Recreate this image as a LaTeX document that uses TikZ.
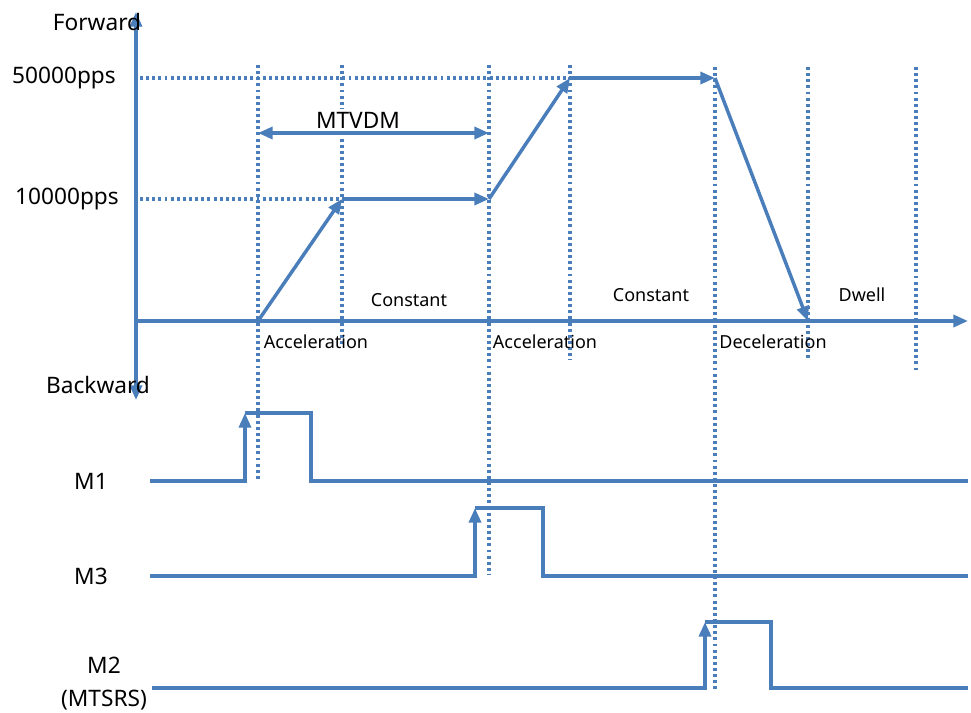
\documentclass[tikz,border=0pt]{standalone}
\usepackage{fontspec}
\setmainfont{Noto Sans}
\usetikzlibrary{arrows.meta}
\definecolor{lineblue}{RGB}{74,126,187}
\begin{document}
\begin{tikzpicture}[x=0.75pt,y=-0.75pt,
 sig/.style={draw=lineblue,line width=2.6pt,line join=miter},
 arr/.style={sig,-{Triangle[length=11pt,width=9pt]}},
 darr/.style={sig,{Triangle[length=11pt,width=9pt]}-{Triangle[length=11pt,width=9pt]}},
 gridln/.style={draw=lineblue,line width=2.4pt,dash pattern=on 2.2pt off 2.4pt},
 big/.style={font=\fontsize{17}{20}\selectfont,inner sep=0pt},
 small/.style={font=\fontsize{13.5}{16}\selectfont,inner sep=0pt}]
\useasboundingbox (0,0) rectangle (971,713);

% axes coordinates
\coordinate (ytop) at (136,12);
\coordinate (ybot) at (136,400);
\coordinate (x0) at (136,321);
\coordinate (xend) at (968,321);

% profile points
\coordinate (p0) at (258,321);
\coordinate (p1) at (342,199);
\coordinate (p2) at (489,199);
\coordinate (p3) at (570,78);
\coordinate (p4) at (715,78);
\coordinate (p5) at (808,321);

% dotted grid lines
\draw[gridln] (258,65) -- (258,480);
\draw[gridln] (342,65) -- (342,346);
\draw[gridln] (489,65) -- (489,575);
\draw[gridln] (570,65) -- (570,360);
\draw[gridln] (715,67) -- (715,690);
\draw[gridln] (808,67) -- (808,360);
\draw[gridln] (916,67) -- (916,373);
\draw[gridln] (140,78) -- (p3);
\draw[gridln] (140,199) -- (p1);

% axes
\draw[darr] (ybot) -- (ytop);
\draw[arr] (x0) -- (xend);

% velocity profile
\draw[arr] (p0) -- (p1);
\draw[arr] (p1) -- (p2);
\draw[arr] (p2) -- (p3);
\draw[arr] (p3) -- (p4);
\draw[arr] (p4) -- (p5);

% MTVDM
\node[big,fill=white,inner sep=2pt] (mtvdm) at (358,120) {MTVDM};
\coordinate (ma) at (258,133);
\coordinate (mb) at (489,133);
\draw[darr] (ma) -- (mb);

% axis labels
\node[big] (fwd) at (97,22) {Forward};
\node[big] (bwd) at (98,385) {Backward};
\node[big] (v50) at (64,78) {50000pps};
\node[big] (v10) at (67,199) {10000pps};

% phase labels
\node[small] (c1) at (409,300) {Constant};
\node[small] (c2) at (651,295) {Constant};
\node[small] (dw) at (862,295) {Dwell};
\node[small] (a1) at (316,342) {Acceleration};
\node[small] (a2) at (545,342) {Acceleration};
\node[small] (d1) at (773,342) {Deceleration};

% M1
\coordinate (m1s) at (150,481);
\coordinate (m1a) at (245,481);
\coordinate (m1b) at (245,413);
\coordinate (m1c) at (311,413);
\coordinate (m1d) at (311,481);
\coordinate (m1e) at (968,481);
\draw[arr] (m1s) -- (m1a) -- (m1b);
\draw[sig] (m1b) -- (m1c) -- (m1d) -- (m1e);
\node[big] (lm1) at (91,481) {M1};

% M3
\coordinate (m3s) at (150,576);
\coordinate (m3a) at (475,576);
\coordinate (m3b) at (475,508);
\coordinate (m3c) at (543,508);
\coordinate (m3d) at (543,576);
\coordinate (m3e) at (968,576);
\draw[arr] (m3s) -- (m3a) -- (m3b);
\draw[sig] (m3b) -- (m3c) -- (m3d) -- (m3e);
\node[big] (lm3) at (91,576) {M3};

% M2
\coordinate (m2s) at (152,688);
\coordinate (m2a) at (705,688);
\coordinate (m2b) at (705,622);
\coordinate (m2c) at (771,622);
\coordinate (m2d) at (771,688);
\coordinate (m2e) at (968,688);
\draw[arr] (m2s) -- (m2a) -- (m2b);
\draw[sig] (m2b) -- (m2c) -- (m2d) -- (m2e);
\node[big] (lm2) at (104,665) {M2};
\node[big] (lm2b) at (104,700) {(MTSRS)};
\end{tikzpicture}
\end{document}
